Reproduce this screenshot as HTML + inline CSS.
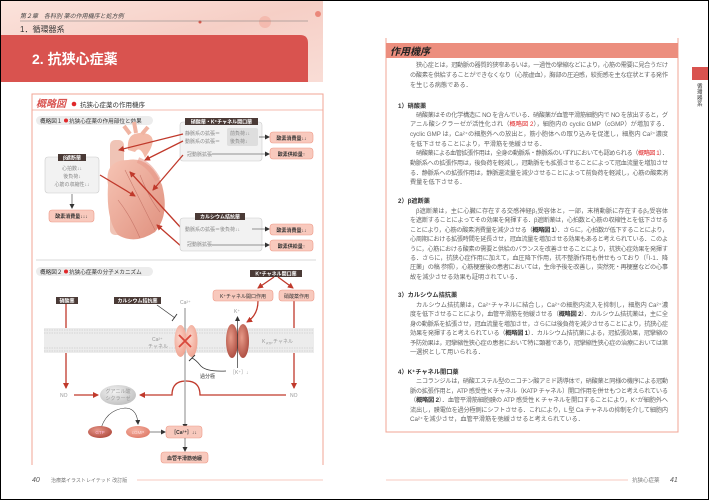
<!DOCTYPE html>
<html><head><meta charset="utf-8"><style>
html,body{margin:0;padding:0;background:#fff}
svg{display:block}
text{font-family:"Liberation Sans","Noto Sans CJK JP",sans-serif}
</style></head><body>
<svg width="709" height="500" viewBox="0 0 709 500" xmlns="http://www.w3.org/2000/svg">
<defs>
<linearGradient id="hg" x1="0" y1="0" x2="1" y2="1">
<stop offset="0" stop-color="#fbe3dc"/><stop offset="0.5" stop-color="#f6cfc6"/><stop offset="1" stop-color="#f9ddd6"/></linearGradient>
<linearGradient id="heart" x1="0" y1="0" x2="1" y2="1">
<stop offset="0" stop-color="#f6c4b4"/><stop offset="1" stop-color="#e0907e"/></linearGradient>
<radialGradient id="kch" cx="0.4" cy="0.4" r="0.7"><stop offset="0" stop-color="#e79a88"/><stop offset="1" stop-color="#a8463a"/></radialGradient>
<radialGradient id="cch" cx="0.4" cy="0.4" r="0.7"><stop offset="0" stop-color="#fbd3c8"/><stop offset="1" stop-color="#ee9f8c"/></radialGradient>
<radialGradient id="gc" cx="0.4" cy="0.35" r="0.7"><stop offset="0" stop-color="#f2f2f2"/><stop offset="1" stop-color="#c0c0c0"/></radialGradient>
<radialGradient id="gtp" cx="0.4" cy="0.35" r="0.7"><stop offset="0" stop-color="#e7988a"/><stop offset="1" stop-color="#b04a3e"/></radialGradient>
<radialGradient id="cgmp" cx="0.4" cy="0.35" r="0.7"><stop offset="0" stop-color="#f5b4a4"/><stop offset="1" stop-color="#df7a68"/></radialGradient>
<marker id="ar" markerWidth="6" markerHeight="6" refX="5" refY="3" orient="auto" markerUnits="userSpaceOnUse"><path d="M0,0 L6,3 L0,6 z" fill="#c0392b"/></marker>
<marker id="ak" markerWidth="5" markerHeight="5" refX="4" refY="2.5" orient="auto" markerUnits="userSpaceOnUse"><path d="M0,0 L5,2.5 L0,5 z" fill="#333"/></marker>
</defs>
<rect x="0.5" y="0.5" width="708" height="499" fill="#fff" stroke="#000"/>
<!-- left header -->
<rect x="1" y="1" width="322" height="81" fill="url(#hg)"/>
<circle cx="265" cy="22" r="6" fill="#f3b1a4" opacity="0.7"/>
<circle cx="318" cy="14" r="3" fill="#e56a5a" opacity="0.7"/>
<circle cx="200" cy="22" r="1.5" fill="#d9584b"/>
<text x="20" y="18" font-size="6" font-style="italic" fill="#444">第２章　各科別 薬の作用機序と処方例</text>
<line x1="20" y1="21" x2="308" y2="21" stroke="#777" stroke-width="0.6"/>
<text x="20" y="32" font-size="8" fill="#333">1．循環器系</text>
<path d="M1,35 H300 Q308,35 308,43 V82 H1 Z" fill="#d9534f"/>
<text x="32" y="64" font-size="14" font-weight="bold" fill="#fff">2. 抗狭心症薬</text>
<!-- left box -->
<path d="M32,465 V94 H323 V465" fill="none" stroke="#f2a594" stroke-width="1"/>
<line x1="32" y1="110" x2="323" y2="110" stroke="#f2a594" stroke-width="0.8"/>
<text x="36" y="107" font-size="10" font-weight="bold" font-style="italic" fill="#d9534f">概略図</text>
<circle cx="74" cy="104" r="2.3" fill="#e0282a"/>
<text x="80" y="107" font-size="6.5" fill="#333">抗狭心症薬の作用機序</text>
<!-- fig1 -->
<rect x="36" y="116" width="117" height="9" rx="4.5" fill="#ececec"/>
<text x="40" y="123" font-size="5.6" fill="#333">概略図１</text><circle cx="66" cy="120.5" r="2" fill="#e0282a"/><text x="69" y="123" font-size="5.6" fill="#333">抗狭心症薬の作用部位と効果</text>
<rect x="180" y="122" width="82" height="39" rx="3" fill="#f2f2f2" stroke="#ccc" stroke-width="0.6"/>
<rect x="185" y="118" width="73" height="7" fill="#4a3a36"/>
<text x="221.5" y="123.5" font-size="5" font-weight="bold" fill="#fff" text-anchor="middle">硝酸薬・K⁺チャネル開口薬</text>
<rect x="227" y="128" width="31" height="18" rx="2" fill="#dedede"/>
<text x="185" y="135" font-size="5" fill="#888">静脈系の拡張＝</text><text x="230" y="135" font-size="5" fill="#888">前負荷↓↓</text>
<text x="185" y="143" font-size="5" fill="#888">動脈系の拡張＝</text><text x="230" y="143" font-size="5" fill="#888">後負荷↓</text>
<text x="187" y="156" font-size="5" fill="#888">冠動脈拡張</text>
<line x1="259" y1="137" x2="269" y2="137" stroke="#333" stroke-width="0.6" marker-end="url(#ak)"/>
<line x1="212" y1="154" x2="269" y2="154" stroke="#333" stroke-width="0.6" marker-end="url(#ak)"/>
<rect x="270" y="132" width="43" height="11" rx="3" fill="#f8c9bd" stroke="#ee9a88" stroke-width="0.6"/><text x="291.5" y="139.8" font-size="5" font-weight="bold" fill="#333" text-anchor="middle">酸素消費量↓↓</text>
<rect x="270" y="148" width="43" height="11" rx="3" fill="#f8c9bd" stroke="#ee9a88" stroke-width="0.6"/><text x="291.5" y="155.8" font-size="5" font-weight="bold" fill="#333" text-anchor="middle">酸素供給量↑</text>
<rect x="45" y="157" width="54" height="36" rx="3" fill="#f2f2f2" stroke="#ccc" stroke-width="0.6"/>
<rect x="58" y="154" width="28" height="7" fill="#4a3a36"/><text x="72" y="159.5" font-size="5" font-weight="bold" fill="#fff" text-anchor="middle">β遮断薬</text>
<text x="72" y="170" font-size="5" fill="#888" text-anchor="middle">心拍数↓↓</text>
<text x="72" y="178" font-size="5" fill="#888" text-anchor="middle">後負荷↓</text>
<text x="72" y="186" font-size="5" fill="#888" text-anchor="middle">心筋の収縮性↓↓</text>
<line x1="72" y1="194" x2="72" y2="208" stroke="#333" stroke-width="0.6" marker-end="url(#ak)"/>
<rect x="49" y="210" width="45" height="12" rx="3" fill="#f8c9bd" stroke="#ee9a88" stroke-width="0.6"/><text x="71.5" y="218" font-size="5" font-weight="bold" fill="#333" text-anchor="middle">酸素消費量↓↓↓</text>
<!-- heart -->
<rect x="110" y="140" width="14" height="95" rx="5" fill="#f0c4b6"/>
<path d="M128,150 Q126,132 142,133 Q158,134 150,150 L145,158 Q140,145 135,152 Z" fill="#f3baa8"/>
<path d="M130,134 L124,126 M136,133 L134,122 M142,134 L148,127" stroke="#f0b4a2" stroke-width="4"/>
<path d="M108,185 Q104,160 128,160 Q150,156 162,185 Q170,215 155,232 Q135,245 118,235 Q106,220 108,185 Z" fill="url(#heart)"/>
<path d="M125,170 Q140,200 155,230 M140,175 Q150,200 160,212 M118,200 Q130,215 140,238" stroke="#c8776a" stroke-width="0.6" fill="none"/>
<path d="M138,160 Q150,165 158,180" stroke="#e89a8a" stroke-width="6" fill="none" opacity="0.6"/>
<!-- heart arrows -->
<g stroke="#c0392b" stroke-width="1.3" fill="none" marker-end="url(#ar)">
<line x1="183" y1="134" x2="119" y2="150"/>
<line x1="183" y1="141" x2="145" y2="160"/>
<line x1="183" y1="155" x2="153" y2="190"/>
<line x1="100" y1="175" x2="135" y2="196"/>
<line x1="182" y1="229" x2="130" y2="172"/>
<line x1="182" y1="247" x2="157" y2="225"/>
</g>
<rect x="180" y="218" width="82" height="33" rx="3" fill="#f2f2f2" stroke="#ccc" stroke-width="0.6"/>
<rect x="195" y="213" width="50" height="7" fill="#4a3a36"/><text x="220" y="218.5" font-size="5" font-weight="bold" fill="#fff" text-anchor="middle">カルシウム拮抗薬</text>
<text x="185" y="231" font-size="5" fill="#888">動脈系の拡張＝後負荷↓↓</text>
<text x="187" y="246" font-size="5" fill="#888">冠動脈拡張</text>
<line x1="252" y1="229" x2="269" y2="229" stroke="#333" stroke-width="0.6" marker-end="url(#ak)"/>
<line x1="212" y1="245" x2="269" y2="245" stroke="#333" stroke-width="0.6" marker-end="url(#ak)"/>
<rect x="270" y="224" width="43" height="11" rx="3" fill="#f8c9bd" stroke="#ee9a88" stroke-width="0.6"/><text x="291.5" y="231.8" font-size="5" font-weight="bold" fill="#333" text-anchor="middle">酸素消費量↓↓</text>
<rect x="270" y="240" width="43" height="11" rx="3" fill="#f8c9bd" stroke="#ee9a88" stroke-width="0.6"/><text x="291.5" y="247.8" font-size="5" font-weight="bold" fill="#333" text-anchor="middle">酸素供給量↑</text>
<line x1="36" y1="260" x2="316" y2="260" stroke="#ccc" stroke-width="0.8"/>
<!-- fig2 -->
<rect x="36" y="267" width="117" height="9" rx="4.5" fill="#ececec"/>
<text x="40" y="274" font-size="5.6" fill="#333">概略図２</text><circle cx="66" cy="271.5" r="2" fill="#e0282a"/><text x="69" y="274" font-size="5.6" fill="#333">抗狭心症薬の分子メカニズム</text>
<rect x="250" y="270" width="52" height="7" fill="#4a3a36"/><text x="276" y="275.5" font-size="5" font-weight="bold" fill="#fff" text-anchor="middle">K⁺チャネル開口薬</text>
<g stroke="#c0392b" stroke-width="1.3" fill="none" marker-end="url(#ar)">
<path d="M274,277 L258,288"/><path d="M278,277 L293,288"/>
<path d="M258,301 Q258,315 247,322"/>
<line x1="66" y1="304" x2="66" y2="388"/>
<line x1="294" y1="301" x2="294" y2="388"/>
<line x1="74" y1="395" x2="98" y2="395"/>
<path d="M286,395 H200 Q200,381 186,381 Q172,381 172,395 H140"/>
</g>
<rect x="213" y="290" width="60" height="11" rx="3" fill="#f8c9bd" stroke="#ee9a88" stroke-width="0.6"/><text x="243" y="297.8" font-size="5" fill="#333" text-anchor="middle">K⁺チャネル開口作用</text>
<rect x="279" y="290" width="35" height="11" rx="3" fill="#f8c9bd" stroke="#ee9a88" stroke-width="0.6"/><text x="296.5" y="297.8" font-size="5" fill="#333" text-anchor="middle">硝酸薬作用</text>
<rect x="56" y="297" width="22" height="7" fill="#4a3a36"/><text x="67" y="302.5" font-size="5" font-weight="bold" fill="#fff" text-anchor="middle">硝酸薬</text>
<rect x="114" y="297" width="47" height="7" fill="#4a3a36"/><text x="137.5" y="302.5" font-size="5" font-weight="bold" fill="#fff" text-anchor="middle">カルシウム拮抗薬</text>
<path d="M157,305 L175,318" stroke="#333" stroke-width="0.7"/><path d="M172,321 L177,314" stroke="#333" stroke-width="0.9"/>
<text x="180" y="304" font-size="5" fill="#999">Ca²⁺</text>
<!-- membrane -->
<rect x="44" y="328" width="270" height="25" fill="#ececec"/>
<g stroke="#dcdcdc" stroke-width="1.5" stroke-dasharray="1.5 1"><line x1="44" y1="330" x2="314" y2="330"/><line x1="44" y1="333" x2="314" y2="333"/><line x1="44" y1="348" x2="314" y2="348"/><line x1="44" y1="351" x2="314" y2="351"/></g>
<line x1="185" y1="308" x2="185" y2="428" stroke="#aaa" stroke-width="1.4" marker-end="url(#ak)"/>
<ellipse cx="180.5" cy="341" rx="6" ry="16" fill="url(#cch)"/><ellipse cx="191.5" cy="341" rx="6" ry="16" fill="url(#cch)"/>
<path d="M179,335 L191,347 M191,335 L179,347" stroke="#d9473b" stroke-width="1.8"/>
<text x="152" y="341" font-size="5" fill="#999">Ca²⁺</text><text x="148" y="348" font-size="5" fill="#999">チャネル</text>
<ellipse cx="232" cy="341" rx="6" ry="17" fill="url(#kch)"/><ellipse cx="243" cy="341" rx="6" ry="17" fill="url(#kch)"/>
<line x1="237.5" y1="368" x2="237.5" y2="317" stroke="#333" stroke-width="0.7" marker-end="url(#ak)"/>
<text x="234" y="313" font-size="5" fill="#999">K⁺</text>
<text x="262" y="343" font-size="5" fill="#999">K</text><text x="266" y="344.5" font-size="3.5" fill="#999">ATP</text><text x="273" y="343" font-size="5" fill="#999">チャネル</text>
<text x="230" y="374" font-size="5" fill="#999">［K⁺］↓</text>
<path d="M226,371 Q205,372 200,365 Q196,360 192,358" stroke="#333" stroke-width="0.7" fill="none"/><path d="M189,361 L195,355" stroke="#333" stroke-width="0.9"/>
<text x="200" y="378" font-size="5" fill="#333">過分極</text>
<text x="60" y="397" font-size="5" fill="#999">NO</text>
<text x="290" y="397" font-size="5" fill="#999">NO</text>
<ellipse cx="118" cy="395" rx="18" ry="10" fill="url(#gc)"/>
<text x="118" y="393" font-size="5" fill="#999" text-anchor="middle">グアニル酸</text><text x="118" y="400" font-size="5" fill="#999" text-anchor="middle">シクラーゼ</text>
<path d="M100,432 Q105,410 125,408 Q137,408 138,424" stroke="#333" stroke-width="0.6" fill="none" marker-end="url(#ak)"/>
<ellipse cx="100" cy="432" rx="12" ry="6" fill="url(#gtp)"/><text x="100" y="434" font-size="4.5" fill="#fbd" text-anchor="middle">GTP</text>
<ellipse cx="138" cy="432" rx="12" ry="6" fill="url(#cgmp)"/><text x="138" y="434" font-size="4.5" fill="#fdd" text-anchor="middle">cGMP</text>
<line x1="150" y1="432" x2="165" y2="432" stroke="#333" stroke-width="0.6" marker-end="url(#ak)"/>
<rect x="166" y="426" width="36" height="12" rx="3" fill="#f8c9bd" stroke="#ee9a88" stroke-width="0.6"/><text x="184" y="434" font-size="5" font-weight="bold" fill="#333" text-anchor="middle">［Ca²⁺］↓↓</text>
<line x1="185" y1="438" x2="185" y2="451" stroke="#333" stroke-width="0.6" marker-end="url(#ak)"/>
<rect x="161" y="452" width="47" height="11" rx="3" fill="#f8c9bd" stroke="#ee9a88" stroke-width="0.6"/><text x="184.5" y="459.8" font-size="5" font-weight="bold" fill="#333" text-anchor="middle">血管平滑筋弛緩</text>
<!-- left footer -->
<text x="32" y="482" font-size="7" font-style="italic" fill="#555">40</text>
<text x="51" y="482" font-size="5" fill="#777">治療薬イラストレイテッド 改訂版</text>
<line x1="137" y1="480" x2="323" y2="480" stroke="#f4b8aa" stroke-width="0.8"/>
<!-- right page -->
<path d="M386,38 V432 H678 V38" fill="none" stroke="#f2a594" stroke-width="1"/>
<rect x="386" y="43" width="292" height="15" fill="#ec8e7e"/>
<text x="390" y="55" font-size="10" font-weight="bold" font-style="italic" fill="#222">作用機序</text>
<rect x="692" y="67" width="16" height="13" fill="#d9534f"/>
<text font-size="5.5" fill="#333"><tspan x="697" y="88">循</tspan><tspan x="697" y="94">環</tspan><tspan x="697" y="100">器</tspan><tspan x="697" y="106">系</tspan></text>
<g font-size="6.2" fill="#666">
<text x="416" y="67" textLength="252" lengthAdjust="spacing">狭心症とは，冠動脈の器質的狭窄あるいは，一過性の攣縮などにより，心筋の需要に見合うだけ</text>
<text x="410" y="77" textLength="258" lengthAdjust="spacing">の酸素を供給することができなくなり（心筋虚血），胸部の圧迫感，絞扼感を主な症状とする発作</text>
<text x="410" y="87">を生じる病態である．</text>
<text x="398" y="108" fill="#333" font-weight="bold">1）硝酸薬</text>
<text x="416" y="117" textLength="252" lengthAdjust="spacing">硝酸薬はその化学構造に NO を含んでいる．硝酸薬が血管平滑筋細胞内で NO を放出すると，グ</text>
<text x="410" y="126" textLength="258" lengthAdjust="spacing">アニル酸シクラーゼが活性化され（<tspan fill="#e0282a">概略図 2</tspan>），細胞内の cyclic GMP（cGMP）が増加する．</text>
<text x="410" y="136" textLength="258" lengthAdjust="spacing">cyclic GMP は，Ca²⁺の細胞外への放出と，筋小胞体への取り込みを促進し，細胞内 Ca²⁺濃度</text>
<text x="410" y="146">を低下させることにより，平滑筋を弛緩させる．</text>
<text x="416" y="155" textLength="252" lengthAdjust="spacing">硝酸薬による血管拡張作用は，全身の動脈系・静脈系のいずれにおいても認められる（<tspan fill="#e0282a">概略図 1</tspan>）．</text>
<text x="410" y="165" textLength="258" lengthAdjust="spacing">動脈系への拡張作用は，後負荷を軽減し，冠動脈をも拡張させることによって冠血流量を増加させ</text>
<text x="410" y="175" textLength="258" lengthAdjust="spacing">る．静脈系への拡張作用は，静脈還流量を減少させることによって前負荷を軽減し，心筋の酸素消</text>
<text x="410" y="184">費量を低下させる．</text>
<text x="398" y="203" fill="#333" font-weight="bold">2）β遮断薬</text>
<text x="416" y="213" textLength="252" lengthAdjust="spacing">β遮断薬は，主に心臓に存在する交感神経β₁受容体と，一部，末梢動脈に存在するβ₂受容体</text>
<text x="410" y="222" textLength="258" lengthAdjust="spacing">を遮断することによってその効果を発揮する．β遮断薬は，心拍数と心筋の収縮性とを低下させる</text>
<text x="410" y="232" textLength="258" lengthAdjust="spacing">ことにより，心筋の酸素消費量を減少させる（<tspan fill="#333" font-weight="bold">概略図 1</tspan>）．さらに，心拍数が低下することにより，</text>
<text x="410" y="241" textLength="258" lengthAdjust="spacing">心周期における拡張時間を延長させ，冠血流量を増加させる効果もあると考えられている．このよ</text>
<text x="410" y="251" textLength="258" lengthAdjust="spacing">うに，心筋における酸素の需要と供給のバランスを改善させることにより，抗狭心症効果を発揮す</text>
<text x="410" y="260" textLength="258" lengthAdjust="spacing">る．さらに，抗狭心症作用に加えて，血圧降下作用，抗不整脈作用も併せもっており（「I-1．降</text>
<text x="410" y="269" textLength="258" lengthAdjust="spacing">圧薬」の稿 参照），心筋梗塞後の患者においては，生命予後を改善し，突然死・再梗塞などの心事</text>
<text x="410" y="279">故を減少させる効果も証明されている．</text>
<text x="398" y="297" fill="#333" font-weight="bold">3）カルシウム拮抗薬</text>
<text x="416" y="307" textLength="252" lengthAdjust="spacing">カルシウム拮抗薬は，Ca²⁺チャネルに結合し，Ca²⁺の細胞内流入を抑制し，細胞内 Ca²⁺濃</text>
<text x="410" y="316" textLength="258" lengthAdjust="spacing">度を低下させることにより，血管平滑筋を弛緩させる（<tspan fill="#333" font-weight="bold">概略図 2</tspan>）．カルシウム拮抗薬は，主に全</text>
<text x="410" y="326" textLength="258" lengthAdjust="spacing">身の動脈系を拡張させ，冠血流量を増加させ，さらには後負荷を減少させることにより，抗狭心症</text>
<text x="410" y="335" textLength="258" lengthAdjust="spacing">効果を発揮すると考えられている（<tspan fill="#333" font-weight="bold">概略図 1</tspan>）．カルシウム拮抗薬による，冠拡張効果，冠攣縮の</text>
<text x="410" y="345" textLength="258" lengthAdjust="spacing">予防効果は，冠攣縮性狭心症の患者において特に顕著であり，冠攣縮性狭心症の治療においては第</text>
<text x="410" y="354">一選択として用いられる．</text>
<text x="398" y="374" fill="#333" font-weight="bold">4）K⁺チャネル開口薬</text>
<text x="416" y="383" textLength="252" lengthAdjust="spacing">ニコランジルは，硝酸エステル型のニコチン酸アミド誘導体で，硝酸薬と同様の機序による冠動</text>
<text x="410" y="393" textLength="258" lengthAdjust="spacing">脈の拡張作用と，ATP 感受性 K チャネル（KATP チャネル）開口作用を併せもつと考えられている</text>
<text x="410" y="402" textLength="258" lengthAdjust="spacing">（<tspan fill="#333" font-weight="bold">概略図 2</tspan>）．血管平滑筋細胞膜の ATP 感受性 K チャネルを開口することにより，K⁺が細胞外へ</text>
<text x="410" y="412" textLength="258" lengthAdjust="spacing">流出し，膜電位を過分極側にシフトさせる．これにより，L 型 Ca チャネルの抑制を介して細胞内</text>
<text x="410" y="421">Ca²⁺を減少させ，血管平滑筋を弛緩させると考えられている．</text>
</g>
<line x1="386" y1="480" x2="628" y2="480" stroke="#f4b8aa" stroke-width="0.8"/>
<text x="632" y="482" font-size="5.5" fill="#777">抗狭心症薬</text>
<text x="670" y="482" font-size="7" font-style="italic" fill="#555">41</text>
</svg>
</body></html>
